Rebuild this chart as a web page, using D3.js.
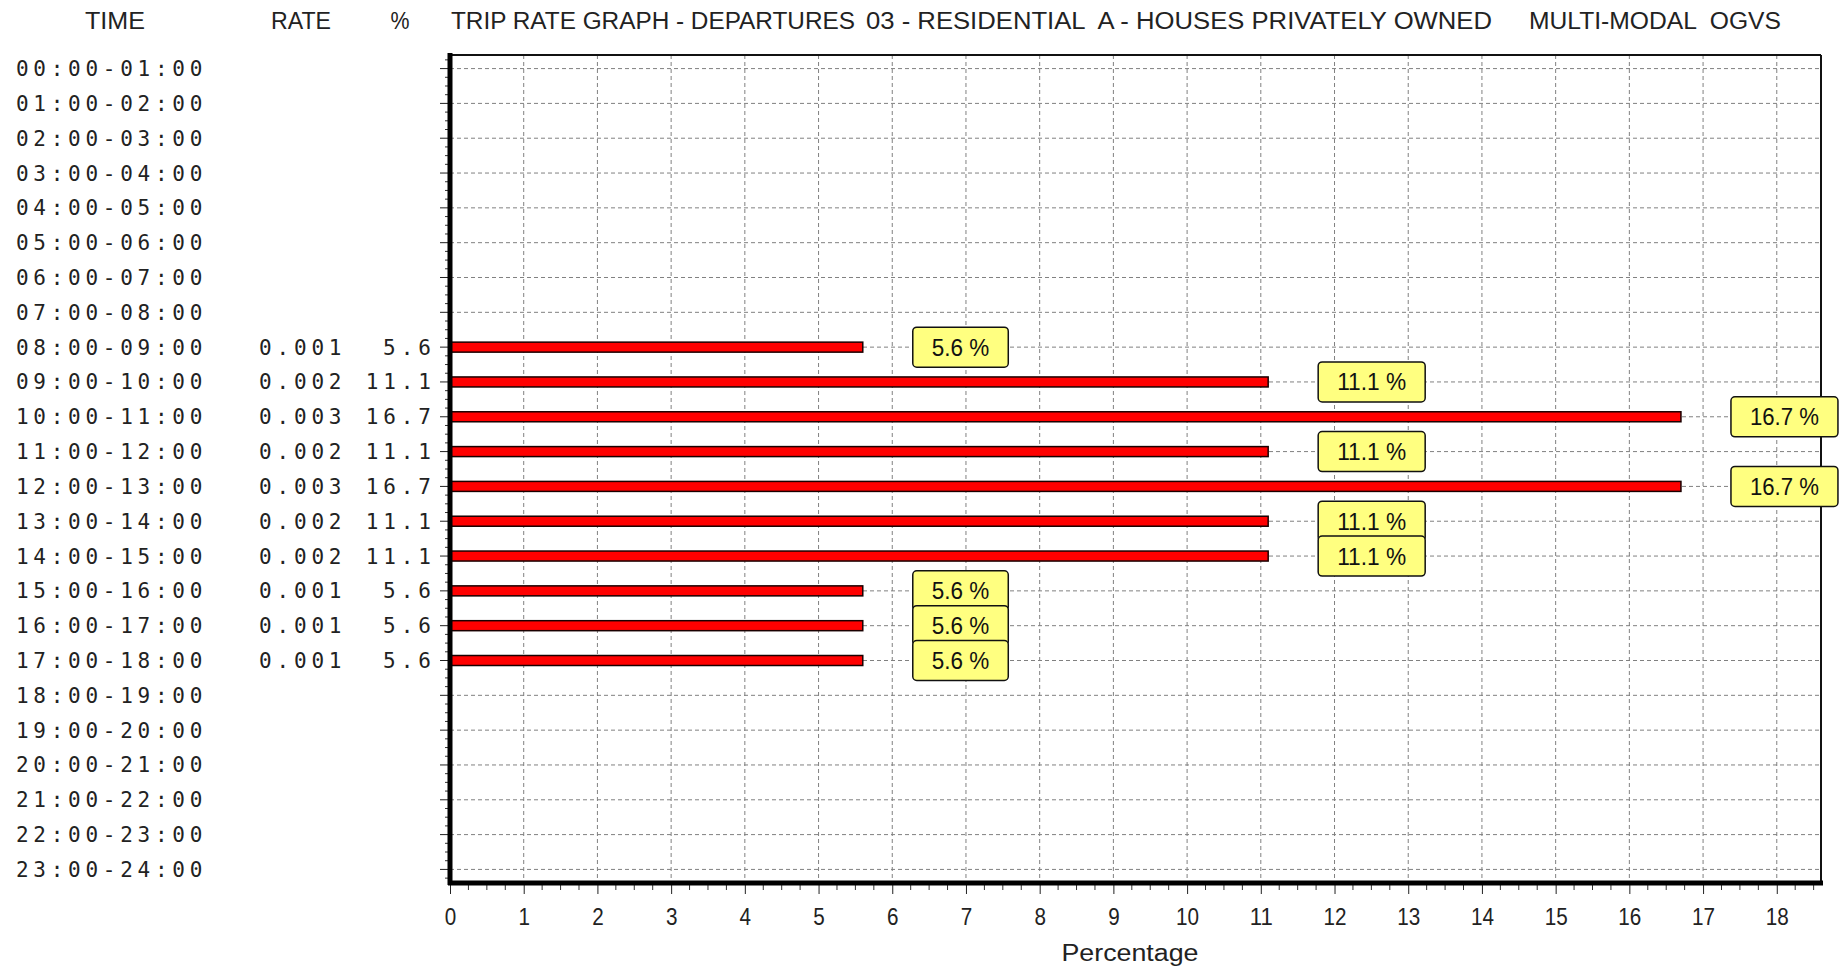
<!DOCTYPE html>
<html>
<head>
<meta charset="utf-8">
<script src="https://cdn.jsdelivr.net/npm/d3@7"></script>
<style>
  html, body { margin: 0; padding: 0; background: #fff; }
  svg { display: block; }
</style>
</head>
<body>
<svg id="chart" width="1839" height="969"></svg>
<script>
// ---- data ----
const times = ["00:00-01:00","01:00-02:00","02:00-03:00","03:00-04:00","04:00-05:00","05:00-06:00",
  "06:00-07:00","07:00-08:00","08:00-09:00","09:00-10:00","10:00-11:00","11:00-12:00",
  "12:00-13:00","13:00-14:00","14:00-15:00","15:00-16:00","16:00-17:00","17:00-18:00",
  "18:00-19:00","19:00-20:00","20:00-21:00","21:00-22:00","22:00-23:00","23:00-24:00"];
const rates = [null,null,null,null,null,null,null,null,
  "0.001","0.002","0.003","0.002","0.003","0.002","0.002","0.001","0.001","0.001",
  null,null,null,null,null,null];
const percents = [null,null,null,null,null,null,null,null,
  5.6,11.1,16.7,11.1,16.7,11.1,11.1,5.6,5.6,5.6,
  null,null,null,null,null,null];
const xTicks = [0,1,2,3,4,5,6,7,8,9,10,11,12,13,14,15,16,17,18];
const headerLabels = ["TIME","RATE","%"];
const titleParts = ["TRIP RATE GRAPH - DEPARTURES", "03 - RESIDENTIAL  A - HOUSES PRIVATELY OWNED", "MULTI-MODAL  OGVS"];
const xTitle = "Percentage";

(function () {
// ---- layout ----
const svg = d3.select("#chart");
const pL = 450, pR = 1821, pT = 55, pB = 883;
const x = d3.scaleLinear().domain([0, 18.6]).range([pL, pR]);
const y = d3.scalePoint().domain(times).range([pT, pB]).padding(0.39);
const step = y.step();
const monoChar = 17.3;
const monoFont = "'DejaVu Sans Mono', 'Liberation Mono', monospace";
const sansFont = "'Liberation Sans', Arial, sans-serif";

// header
const hdr = svg.append("g").attr("font-family", sansFont).attr("font-size", 23).attr("fill", "#222");
const hdrPos = [[115, 60], [301, 60], [400, 19]];
headerLabels.forEach((t, i) => {
  hdr.append("text").attr("x", hdrPos[i][0]).attr("y", 29).attr("text-anchor", "middle")
    .attr("textLength", hdrPos[i][1]).attr("lengthAdjust", "spacingAndGlyphs").text(t);
});
const titlePos = [[451, 404], [866, 626], [1529, 252]];
titleParts.forEach((t, i) => {
  hdr.append("text").attr("x", titlePos[i][0]).attr("y", 29)
    .attr("textLength", titlePos[i][1]).attr("lengthAdjust", "spacingAndGlyphs")
    .style("white-space", "pre").text(t);
});

// gridlines
const grid = svg.append("g").attr("stroke", "#808080").attr("stroke-width", 1).attr("stroke-dasharray", "4,3");
grid.selectAll("line.v").data(xTicks.filter(d => d > 0)).join("line").attr("class", "v")
  .attr("x1", d => x(d)).attr("x2", d => x(d)).attr("y1", pT).attr("y2", pB);
grid.selectAll("line.h").data(times).join("line").attr("class", "h")
  .attr("x1", pL).attr("x2", pR).attr("y1", d => y(d)).attr("y2", d => y(d));

// bars
const rows = times.map((t, i) => ({ t, rate: rates[i], pct: percents[i] }));
const withData = rows.filter(d => d.pct != null);
const barH = 10;
svg.append("g").selectAll("rect").data(withData).join("rect")
  .attr("x", x(0)).attr("y", d => y(d.t) - barH / 2)
  .attr("width", d => x(d.pct) - x(0)).attr("height", barH)
  .attr("fill", "#ff0000").attr("stroke", "#1a0000").attr("stroke-width", 1.5);

// frame
svg.append("line").attr("x1", pL).attr("x2", pR).attr("y1", pT).attr("y2", pT)
  .attr("stroke", "#111").attr("stroke-width", 2);
svg.append("line").attr("x1", pR).attr("x2", pR).attr("y1", pT).attr("y2", pB)
  .attr("stroke", "#111").attr("stroke-width", 2);

// left axis ticks (minor quarter rows + major at rows)
const minorY = [];
for (let i = 0; i < times.length; i++) {
  for (let k = -2; k <= 2; k++) {
    if (k === 0) continue;
    if (k === -2 && i > 0) continue;
    const yy = y(times[i]) + k * step / 4;
    if (yy > pT && yy < pB) minorY.push(yy);
  }
}
svg.append("g").selectAll("line").data(minorY).join("line")
  .attr("x1", pL - 5).attr("x2", pL).attr("y1", d => d).attr("y2", d => d)
  .attr("stroke", "#333").attr("stroke-width", 1);
svg.append("g").selectAll("line").data(times).join("line")
  .attr("x1", pL - 10).attr("x2", pL).attr("y1", d => y(d)).attr("y2", d => y(d))
  .attr("stroke", "#222").attr("stroke-width", 1);

// bottom axis ticks
const minorX = d3.range(0, 18.6, 0.25).filter(v => Math.abs(v - Math.round(v)) > 0.01);
svg.append("g").selectAll("line").data(minorX).join("line")
  .attr("x1", d => x(d)).attr("x2", d => x(d)).attr("y1", pB).attr("y2", pB + 7)
  .attr("stroke", "#333").attr("stroke-width", 1);
const xAxis = d3.axisBottom(x).tickValues(xTicks).tickSize(11).tickPadding(14).tickFormat(d3.format("d"));
const gx = svg.append("g").attr("transform", `translate(0,${pB})`).call(xAxis);
gx.select(".domain").remove();
gx.selectAll(".tick line").attr("stroke", "#222");
gx.selectAll(".tick text").attr("font-family", sansFont).attr("font-size", 24).attr("fill", "#222")
  .attr("textLength", d => String(d).length * 11.5).attr("lengthAdjust", "spacingAndGlyphs");

// thick main axes
svg.append("line").attr("x1", pL).attr("x2", pL).attr("y1", pT - 2).attr("y2", pB + 2)
  .attr("stroke", "#000").attr("stroke-width", 5);
svg.append("line").attr("x1", pL - 2).attr("x2", pR + 2).attr("y1", pB).attr("y2", pB)
  .attr("stroke", "#000").attr("stroke-width", 5);

// x title
svg.append("text").attr("x", 1130).attr("y", 961).attr("text-anchor", "middle")
  .attr("font-family", sansFont).attr("font-size", 23).attr("fill", "#222")
  .attr("textLength", 137).attr("lengthAdjust", "spacingAndGlyphs").text(xTitle);

// left table columns
const tbl = svg.append("g").attr("font-family", monoFont).attr("font-size", 21).attr("fill", "#222");
tbl.selectAll("text.time").data(rows).join("text").attr("class", "time")
  .attr("x", 16).attr("y", d => y(d.t) + 7.5)
  .attr("textLength", d => d.t.length * monoChar - 4).attr("lengthAdjust", "spacing")
  .text(d => d.t);
tbl.selectAll("text.rate").data(withData).join("text").attr("class", "rate")
  .attr("x", 259).attr("y", d => y(d.t) + 7.5)
  .attr("textLength", d => d.rate.length * monoChar - 4).attr("lengthAdjust", "spacing")
  .text(d => d.rate);
tbl.selectAll("text.pct").data(withData).join("text").attr("class", "pct")
  .attr("x", 431).attr("y", d => y(d.t) + 7.5).attr("text-anchor", "end")
  .attr("textLength", d => d.pct.toFixed(1).length * monoChar - 4).attr("lengthAdjust", "spacing")
  .text(d => d.pct.toFixed(1));

// value label boxes
const lbl = svg.append("g");
withData.forEach(d => {
  const g = lbl.append("g");
  const txt = d.pct.toFixed(1) + " %";
  const tw = txt.length * 11.5;
  const w = tw + 38;
  const bx = x(d.pct) + 50;
  g.append("rect").attr("x", bx).attr("y", y(d.t) - 20).attr("width", w).attr("height", 40)
    .attr("rx", 4).attr("fill", "#ffff80").attr("stroke", "#111").attr("stroke-width", 1.5);
  g.append("text").attr("font-family", sansFont).attr("font-size", 24).attr("fill", "#111")
    .attr("x", bx + 19).attr("y", y(d.t) + 8.5)
    .attr("textLength", tw).attr("lengthAdjust", "spacingAndGlyphs").text(txt);
});
})();
</script>
</body>
</html>
